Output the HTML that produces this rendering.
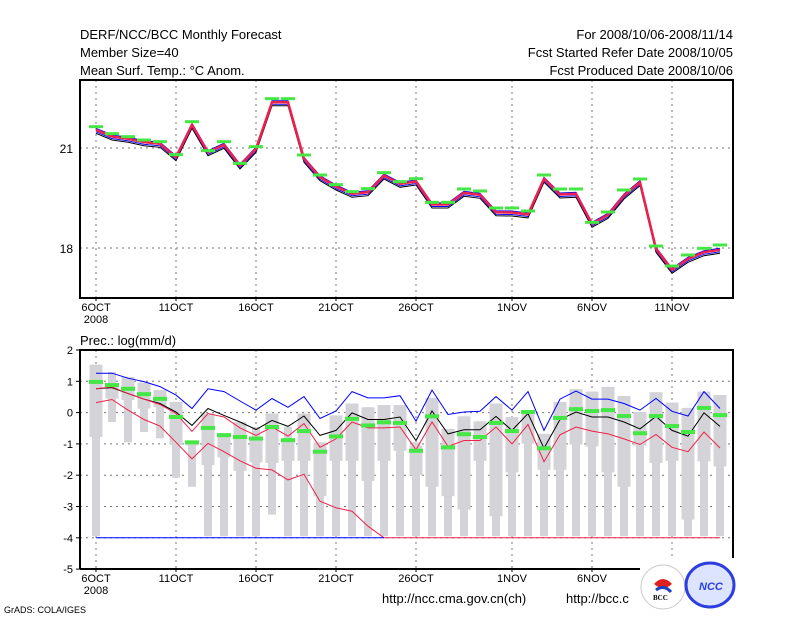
<!DOCTYPE html>
<html><head><meta charset="utf-8"><style>
html,body{margin:0;padding:0;background:#fff;}
svg{display:block;font-family:"Liberation Sans",sans-serif;}
</style></head><body>
<svg id="c" width="800" height="618" viewBox="0 0 800 618" xmlns="http://www.w3.org/2000/svg">
<g font-size="13" fill="#000">
<text x="80" y="39">DERF/NCC/BCC Monthly Forecast</text>
<text x="80" y="57">Member Size=40</text>
<text x="80" y="75">Mean Surf. Temp.: °C Anom.</text>
<text x="733" y="39" text-anchor="end">For 2008/10/06-2008/11/14</text>
<text x="733" y="57" text-anchor="end">Fcst Started Refer Date 2008/10/05</text>
<text x="733" y="75" text-anchor="end">Fcst Produced Date 2008/10/06</text>
<text x="80" y="345">Prec.: log(mm/d)</text>
<text x="382" y="603">http://ncc.cma.gov.cn(ch)</text>
<text x="566" y="603">http://bcc.c</text>
<text x="4" y="613" font-size="9">GrADS: COLA/IGES</text>
</g>
<g id="top"></g>
<g id="bot"></g>
<g>
<rect x="640" y="558" width="98" height="56" fill="#fff"/>
<circle cx="663" cy="587" r="22" fill="#fff" stroke="#ccc"/>
<path d="M654 584 q9 -10 18 0 q-9 8 -18 0z" fill="#e02020"/>
<path d="M656 590 q8 -6 15 2" stroke="#2040c0" stroke-width="3" fill="none"/>
<text x="653" y="600" font-size="7" font-family="Liberation Serif,serif" font-weight="bold">BCC</text>
<ellipse cx="710" cy="585" rx="24" ry="22" fill="#dde4ff" stroke="#2c3ee0" stroke-width="3"/>
<text x="699" y="590" font-size="11" fill="#2c3ee0" font-weight="bold" font-style="italic">NCC</text>
</g>
</svg>
<script>
const tempMean=[21.56,21.36,21.29,21.19,21.14,20.74,21.71,20.89,21.11,20.49,20.99,22.39,22.39,20.69,20.14,19.86,19.64,19.69,20.19,19.94,20.01,19.32,19.32,19.67,19.61,19.09,19.08,19.02,20.09,19.62,19.64,18.74,19.01,19.59,19.99,17.99,17.36,17.69,17.89,17.96];
const tempObs=[21.64,21.43,21.34,21.24,21.19,20.80,21.79,20.92,21.19,20.54,21.04,22.48,22.48,20.79,20.19,19.90,19.69,19.78,20.26,19.99,20.08,19.37,19.37,19.77,19.71,19.20,19.20,19.11,20.19,19.77,19.77,18.77,19.08,19.74,20.07,18.06,17.46,17.79,17.99,18.09];
const precWmax=[1.53,1.30,1.14,0.96,0.72,0.34,-0.89,-0.03,-0.68,-0.30,-0.46,-0.03,-0.46,-0.03,-0.95,-0.09,0.29,0.17,0.24,0.24,-0.95,0.47,-0.52,-0.12,-0.28,0.29,-0.14,0.08,-0.68,0.34,0.75,0.67,0.82,0.53,0.02,0.65,0.32,0.15,0.67,0.56];
const precBoxTop=[1.53,0.94,1.14,0.96,0.72,0.34,-0.89,-0.03,-0.68,-0.30,-0.89,-0.03,-0.84,-0.03,-0.95,-0.09,0.29,0.17,0.24,0.24,-1.05,0.47,-0.52,-0.12,-0.28,0.29,-0.14,0.08,-0.68,0.34,0.75,0.67,0.82,0.53,0.02,0.65,0.32,0.15,0.67,0.56];
const precBoxBot=[-0.78,0.45,0.40,0.13,0.18,-1.03,-1.05,-1.68,-1.43,-1.86,-1.59,-1.61,-1.54,-1.54,-2.67,-1.54,-1.54,-2.18,-1.54,-1.22,-2.0,-2.37,-2.67,-3.10,-1.54,-3.31,-1.91,-0.99,-1.83,-1.83,-1.02,-1.08,-1.91,-2.37,-1.05,-1.61,-1.54,-3.42,-1.56,-1.72];
const precWmin=[-3.95,-0.30,-0.95,-0.62,-0.82,-2.08,-2.37,-3.95,-3.95,-3.95,-3.95,-3.26,-3.95,-3.95,-3.95,-3.95,-3.95,-3.95,-3.95,-3.95,-3.95,-3.95,-3.95,-3.95,-3.95,-3.95,-3.95,-3.95,-3.95,-3.95,-3.95,-3.95,-3.95,-3.95,-3.95,-3.95,-3.95,-3.95,-3.95,-3.95];
const precObs=[0.98,0.88,0.76,0.59,0.44,-0.14,-0.95,-0.49,-0.72,-0.78,-0.83,-0.46,-0.88,-0.59,-1.25,-0.76,-0.20,-0.41,-0.31,-0.33,-1.22,-0.12,-1.11,-0.69,-0.78,-0.33,-0.59,0.02,-1.14,-0.17,0.11,0.05,0.08,-0.11,-0.66,-0.11,-0.43,-0.62,0.15,-0.08];
const precMean=[0.76,0.80,0.61,0.43,0.29,0.02,-0.41,0.13,-0.09,-0.30,-0.54,-0.25,-0.44,-0.11,-0.73,-0.57,-0.01,-0.22,-0.22,-0.14,-0.89,0.05,-0.68,-0.55,-0.55,-0.12,-0.57,-0.03,-1.14,-0.22,0.02,-0.14,-0.14,-0.30,-0.52,-0.12,-0.57,-0.75,-0.01,-0.44];
const precMax=[1.26,1.26,1.10,0.99,0.83,0.56,0.13,0.76,0.67,0.37,0.08,0.45,0.17,0.51,-0.19,0.05,0.67,0.47,0.47,0.54,-0.27,0.72,-0.06,0.02,0.04,0.51,0.08,0.67,-0.57,0.43,0.69,0.43,0.43,0.29,0.08,0.45,0.04,-0.11,0.67,0.13];
const precUpper=[0.76,0.82,0.61,0.43,0.26,-0.03,-0.60,-0.03,-0.14,-0.49,-0.73,-0.46,-0.75,-0.35,-1.11,-0.84,-0.30,-0.49,-0.49,-0.46,-1.19,-0.30,-1.08,-0.89,-0.89,-0.46,-1.0,-0.38,-1.57,-0.71,-0.46,-0.59,-0.68,-0.84,-1.02,-0.70,-1.11,-1.25,-0.62,-1.13];
const precLower=[0.32,0.42,0.08,-0.22,-0.43,-0.95,-1.48,-0.98,-1.25,-1.54,-1.78,-1.83,-2.15,-1.97,-2.83,-3.04,-3.15,-3.63,-4,-4,-4,-4,-4,-4,-4,-4,-4,-4,-4,-4,-4,-4,-4,-4,-4,-4,-4,-4,-4,-4];
const precMin=[-4,-4,-4,-4,-4,-4,-4,-4,-4,-4,-4,-4,-4,-4,-4,-4,-4,-4,-4];
const xTickLabels=["6OCT","11OCT","16OCT","21OCT","26OCT","1NOV","6NOV","11NOV"];
const xTickDays=[0,5,10,15,20,26,31,36];
const topYTicks=[21,18];
const botYTicks=[2,1,0,-1,-2,-3,-4,-5];

const NS="http://www.w3.org/2000/svg";
const xs=i=>96+16*i;
const yT=v=>148-(v-21)*33.33;
const yB=v=>412.6-31.3*v;
function mk(parent,tag,attrs){const e=document.createElementNS(NS,tag);for(const k in attrs)e.setAttribute(k,attrs[k]);parent.appendChild(e);return e;}
function pts(arr,f,dy){return arr.map((v,i)=>xs(i)+","+(f(v)+(dy||0)).toFixed(1)).join(" ");}

const gTop=document.getElementById('top');
const gBot=document.getElementById('bot');

function grid(g,y0,y1,yvals,yf){
  xTickDays.forEach(d=>{const l=mk(g,'line',{x1:xs(d),x2:xs(d),y1:y0,y2:y1,stroke:'#777','stroke-dasharray':'2,4'});
    
    });
  yvals.forEach(v=>{const l=mk(g,'line',{x1:80,x2:733,y1:yf(v),y2:yf(v),stroke:'#777','stroke-dasharray':'2,4'});
    
    });
}
grid(gTop,80,298,topYTicks,yT);
grid(gBot,350,569,botYTicks.slice(1,-1),yB);

[[4,'#000',1],[2.5,'#00f',1],[1.5,'#fff',1],[-1,'#00f',1]].forEach(([dy,c,w])=>{
  const p=mk(gTop,'polyline',{points:pts(tempMean,yT,dy),fill:'none',stroke:c,'stroke-width':w});
  
  
});
const rm=mk(gTop,'polyline',{points:pts(tempMean,yT,0.5),fill:'none',stroke:'#f0204a','stroke-width':2.5});


tempObs.forEach((v,i)=>{const r=mk(gTop,'rect',{x:xs(i)-7,y:yT(v)-1.5,width:14,height:3,fill:'#44e844'});
  
  });

const tb=mk(gTop,'rect',{x:80,y:80,width:653,height:218,fill:'none',stroke:'#000','stroke-width':2});


topYTicks.forEach(v=>{const t=mk(gTop,'text',{x:73,y:yT(v)+5,'text-anchor':'end','font-size':12});t.textContent=v;
  
  });
function xlabels(g,y){
  xTickDays.forEach((d,k)=>{mk(g,'line',{x1:xs(d),x2:xs(d),y1:y-14,y2:y-10,stroke:'#000'});
    const t=mk(g,'text',{x:xs(d),y:y,'text-anchor':'middle','font-size':11});t.textContent=xTickLabels[k];
    
    });
  const t=mk(g,'text',{x:xs(0),y:y+12,'text-anchor':'middle','font-size':11});t.textContent='2008';
  
  
}
xlabels(gTop,311);

precWmax.forEach((v,i)=>{
  const w=mk(gBot,'rect',{x:xs(i)-4,y:yB(v),width:8,height:yB(precWmin[i])-yB(v),fill:'#d4d4d8'});
  
  
  const b=mk(gBot,'rect',{x:xs(i)-6.5,y:yB(precBoxTop[i]),width:13,height:yB(precBoxBot[i])-yB(precBoxTop[i]),fill:'#d4d4d8'});
  
  
});
[[precMax,'#0000ff','precip-max-line'],[precMean,'#000','precip-mean-line'],[precUpper,'#f0204a','precip-upper-line'],[precLower,'#f0204a','precip-lower-line'],[precMin,'#0000ff','precip-min-line']].forEach(([a,c,n])=>{
  const p=mk(gBot,'polyline',{points:pts(a,yB),fill:'none',stroke:c,'stroke-width':1});
  
  
});
precObs.forEach((v,i)=>{const r=mk(gBot,'rect',{x:xs(i)-7,y:yB(v)-2,width:14,height:4,fill:'#44e844'});
  
  });

const fr=mk(gBot,'path',{d:'M80 569 V350 H733 V568 M80 569 H640',fill:'none',stroke:'#000','stroke-width':2});


botYTicks.forEach(v=>{mk(gBot,'line',{x1:76,x2:80,y1:yB(v),y2:yB(v),stroke:'#000'});
  const t=mk(gBot,'text',{x:73,y:yB(v)+4,'text-anchor':'end','font-size':11});t.textContent=v;
  
  });
xlabels(gBot,582);
</script>
</body></html>
